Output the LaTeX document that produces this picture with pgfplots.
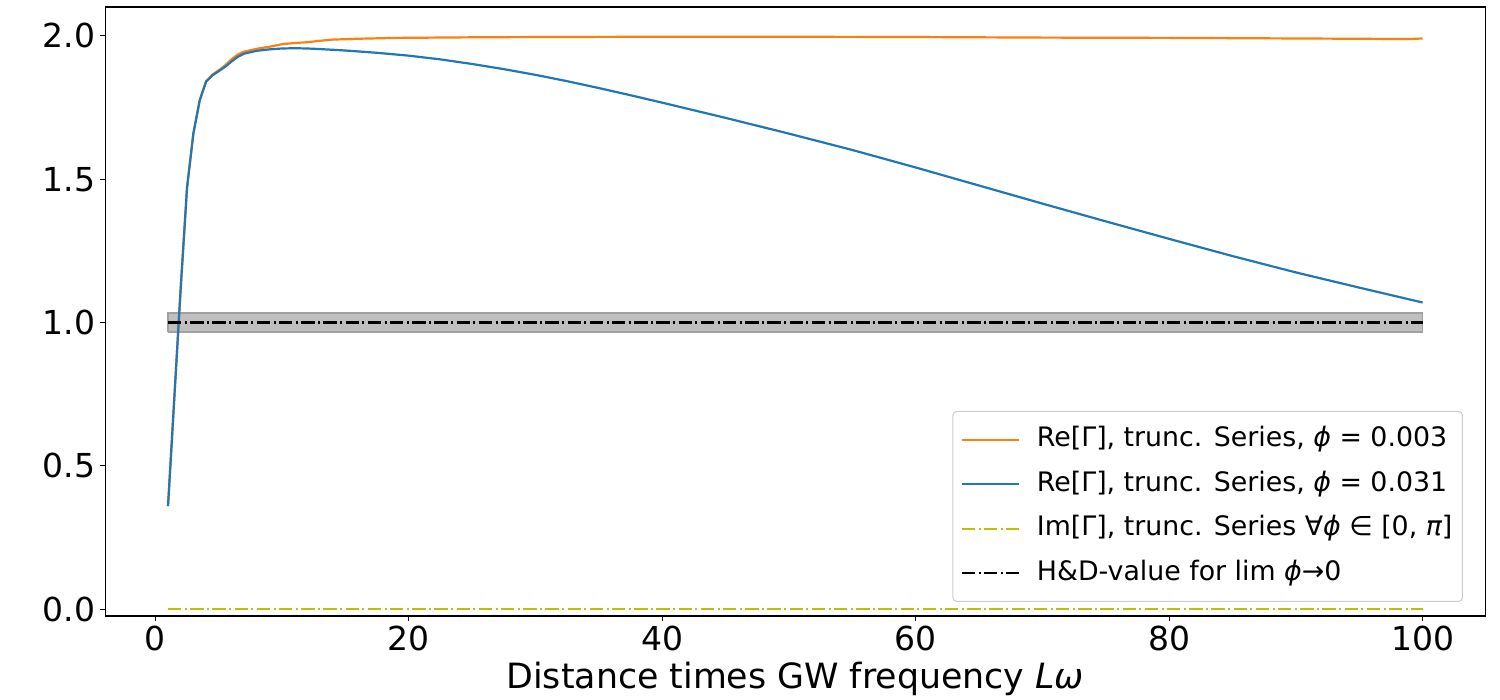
\documentclass[border=0pt]{standalone}
\usepackage{fontspec}
\setmainfont{DejaVu Sans}
\usepackage{pgfplots}
\pgfplotsset{compat=1.18}
\definecolor{mplorange}{HTML}{FF7F0E}
\definecolor{mplblue}{HTML}{1F77B4}
\definecolor{mplyellow}{HTML}{BFBF00}
\definecolor{bandfill}{HTML}{BFBFBF}
\definecolor{bandedge}{HTML}{A0A0A0}
\definecolor{legedge}{HTML}{CCCCCC}
\tikzset{mpldashdot/.style={dash pattern=on 6.7pt off 1.7pt on 1pt off 1.7pt}}
\begin{document}
\begin{tikzpicture}
\useasboundingbox (-52.65pt,-42pt) rectangle (697.35pt,308pt);
\begin{axis}[
  at={(0pt,0pt)}, anchor=south west,
  scale only axis, width=690pt, height=304.5pt,
  xmin=-3.95, xmax=104.95, ymin=-0.0234, ymax=2.1008,
  xtick={0,20,40,60,80,100},
  ytick={0,0.5,1,1.5,2},
  yticklabel style={/pgf/number format/.cd, fixed, fixed zerofill, precision=1},
  /pgf/number format/assume math mode=true,
  tick label style={font=\fontsize{16.5}{20}\selectfont, inner sep=2.4pt},
  tick align=outside, major tick length=2.45pt,
  xtick pos=bottom, ytick pos=left,
  every tick/.style={black, line width=0.55pt},
  axis line style={line width=0.55pt},
  xlabel={Distance times GW frequency {\itshape Lω}},
  xlabel style={font=\fontsize{17.4}{20}\selectfont, at={(axis description cs:0.5,0)}, anchor=base, yshift=-36.5pt},
  legend style={at={(0.9838,0.023)}, anchor=south east,
    draw=legedge, line width=0.5pt, rounded corners=2pt, fill=white, fill opacity=0.8, text opacity=1,
    font=\fontsize{13.4}{16}\selectfont, inner xsep=4pt, inner ysep=6.5pt, row sep=6.8pt, column sep=7.5pt,
    nodes={inner sep=1pt, text height=10.2pt, text depth=3.2pt}},
  legend cell align=left,
  legend image code/.code={\draw[#1] (0pt,0pt) -- (28.5pt,0pt);},
]
% grey band around the H&D value
\addplot[forget plot, fill=bandfill, draw=bandedge, line width=0.7pt] coordinates {
  (1,0.967) (100,0.967) (100,1.033) (1,1.033) (1,0.967)};
% Re[Gamma], phi = 0.003
\addplot[mplorange, line width=1.1pt, mark=none] coordinates {
 (1.0,0.36) (1.5,0.74) (2.0,1.12) (2.5,1.47) (3.0,1.66) (3.5,1.775) (4.0,1.842)
 (4.5,1.865) (5.0,1.88) (5.5,1.897) (6.0,1.918) (6.5,1.935) (7.0,1.945) (8.0,1.955)
 (9.0,1.962) (10,1.971) (11,1.975) (12,1.978) (13,1.983) (14,1.987) (16,1.990)
 (19,1.993) (25,1.995) (30,1.996) (40,1.997) (50,1.997) (60,1.996) (70,1.994)
 (80,1.993) (90,1.991) (99,1.989) (100,1.991)};
\addlegendentry{Re[Γ], trunc. Series, {\itshape ϕ} = 0.003}
% Re[Gamma], phi = 0.031
\addplot[mplblue, line width=1.1pt, mark=none] coordinates {
 (1.0,0.36) (1.5,0.74) (2.0,1.12) (2.5,1.47) (3.0,1.66) (3.5,1.775) (4.0,1.84)
 (4.5,1.862) (5.0,1.877) (5.5,1.892) (6.0,1.91) (6.5,1.927) (7.0,1.938) (8.0,1.948)
 (9.0,1.953) (10,1.956) (11,1.957) (12,1.956) (13,1.954) (15,1.949) (17.5,1.941)
 (20,1.931) (22.5,1.918) (25,1.902) (27.5,1.884) (30,1.864) (32.5,1.842) (35,1.818)
 (37.5,1.793) (40,1.767) (45,1.714) (50,1.659) (55,1.602) (60,1.541) (65,1.478)
 (70,1.415) (75,1.353) (80,1.292) (85,1.232) (90,1.175) (95,1.122) (100,1.070)};
\addlegendentry{Re[Γ], trunc. Series, {\itshape ϕ} = 0.031}
% Im[Gamma]
\addplot[mplyellow, line width=1.1pt, mpldashdot, mark=none] coordinates {(1,0) (100,0)};
\addlegendentry{Im[Γ], trunc. Series ∀{\itshape ϕ} ∈ [0, {\itshape π}]}
% H&D value
\addplot[black, line width=1.1pt, mpldashdot, mark=none] coordinates {(1,1) (100,1)};
\addlegendentry{H\&D-value for lim {\itshape ϕ}→0}
\end{axis}
\end{tikzpicture}
\end{document}
